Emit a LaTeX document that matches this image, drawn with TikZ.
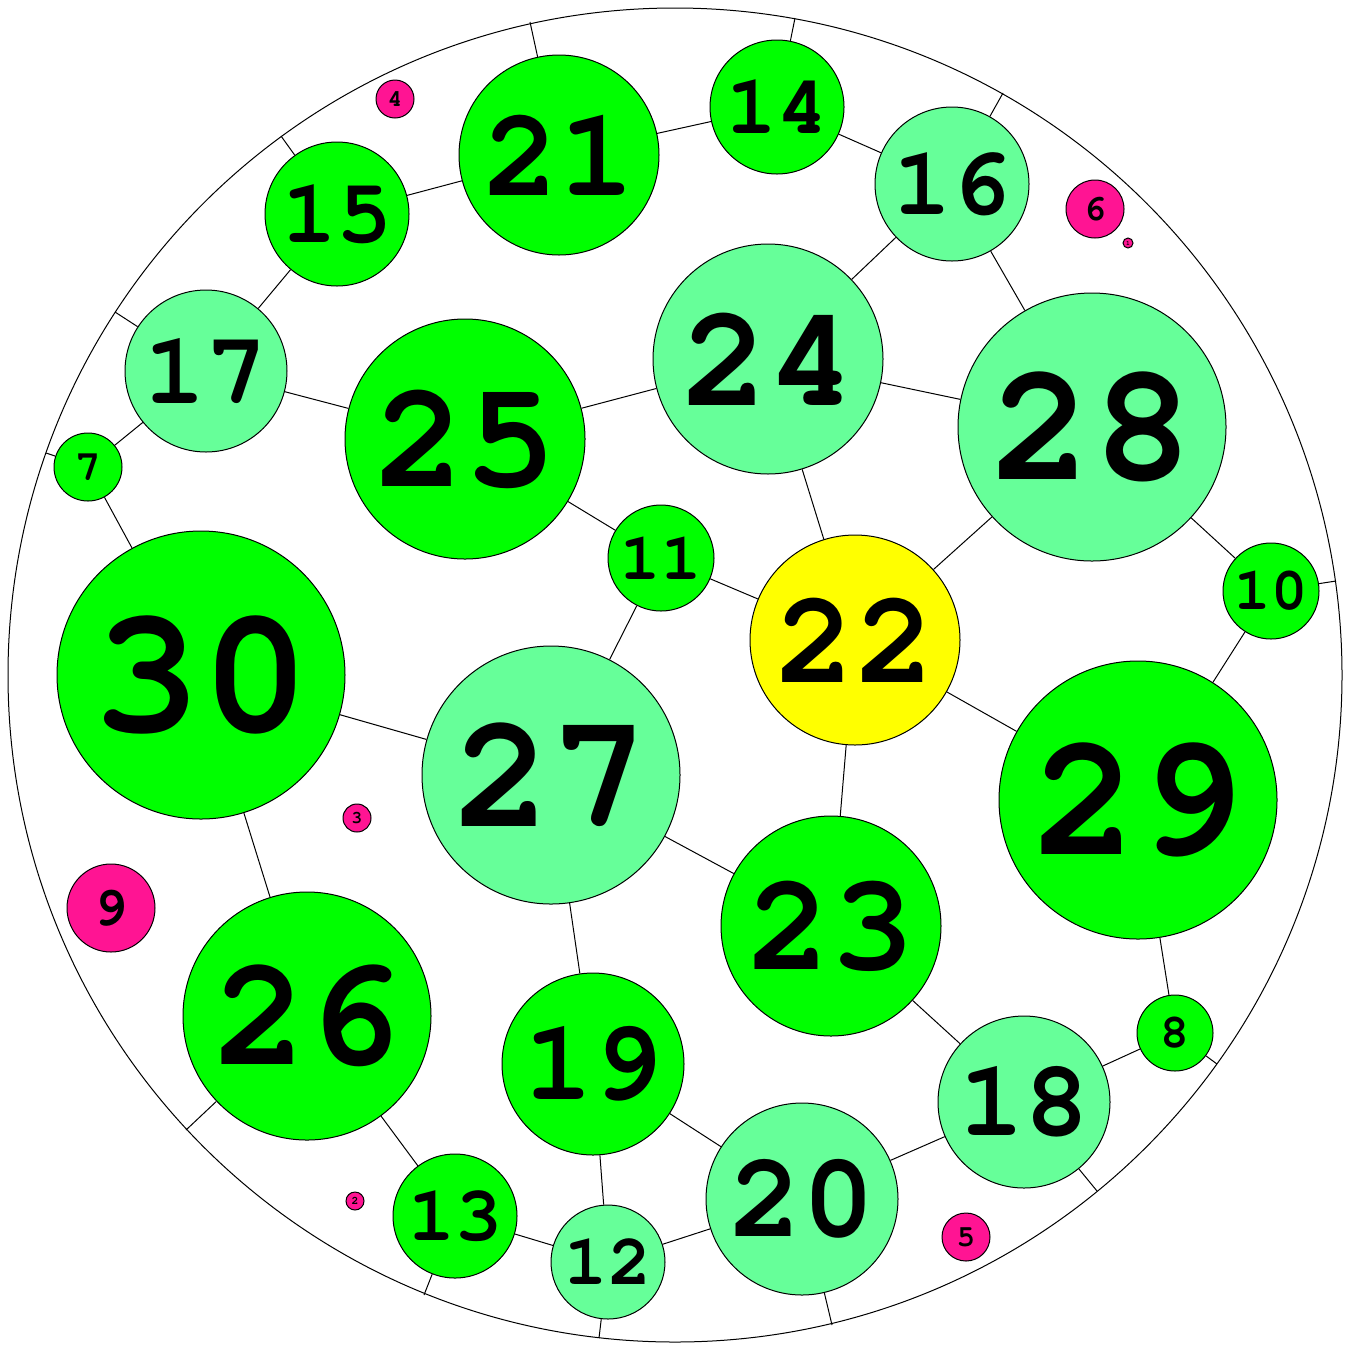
\documentclass[tikz,border=0pt]{standalone}
\usepackage{fontspec}
\setmonofont{texgyrecursor-regular}[Extension=.otf,BoldFont=texgyrecursor-bold]
\definecolor{gA}{HTML}{00FF00}
\definecolor{gB}{HTML}{66FF99}
\definecolor{yA}{HTML}{FFFF00}
\definecolor{pA}{HTML}{FF1493}
\newcommand\bub[5]{%
  \pgfmathsetmacro\fs{0.63*#4}%
  \node[bubble,fill=#5,minimum size=#4pt,font=\ttfamily\bfseries\fontsize{\fs pt}{\fs pt}\selectfont] (n#1) at (#2,#3) {#1};}
\begin{document}
\begin{tikzpicture}[x=0.5pt,y=-0.5pt,
  bubble/.style={circle,draw,line width=0.5pt,inner sep=0pt},
  link/.style={line width=0.5pt}]
\useasboundingbox (0,0) rectangle (1353,1345);
\draw[link] (675,675) circle[radius=333.5pt];
% boundary points
\coordinate (b21) at (530,22);
\coordinate (b14) at (795,18);
\coordinate (b16) at (1003,93);
\coordinate (b15) at (281,136);
\coordinate (b17) at (115,312);
\coordinate (b7) at (46,453);
\coordinate (b10) at (1336,581);
\coordinate (b8) at (1217,1064);
\coordinate (b18) at (1097,1191);
\coordinate (b20) at (832,1325);
\coordinate (b12) at (599,1338);
\coordinate (b13) at (424,1295);
\coordinate (b26) at (186,1130);
% nodes
\bub{21}{559}{155}{100}{gA}
\bub{14}{777}{107}{67}{gA}
\bub{16}{952}{184}{77}{gB}
\bub{15}{337}{214}{72}{gA}
\bub{4}{395}{99}{19}{pA}
\bub{6}{1095}{209}{29}{pA}
\bub{1}{1128}{243}{5}{pA}
\bub{17}{206}{371}{81}{gB}
\bub{25}{465}{439}{120}{gA}
\bub{24}{768}{359}{115}{gB}
\bub{28}{1092}{427}{134}{gB}
\bub{7}{88}{467}{34}{gA}
\bub{11}{661}{558}{53}{gA}
\bub{22}{855}{640}{105}{yA}
\bub{10}{1271}{591}{48}{gA}
\bub{30}{201}{675}{144}{gA}
\bub{27}{551}{775}{129}{gB}
\bub{29}{1138}{800}{139}{gA}
\bub{3}{357}{818}{14}{pA}
\bub{9}{111}{908}{44}{pA}
\bub{23}{831}{926}{110}{gA}
\bub{26}{307}{1016}{124}{gA}
\bub{19}{593}{1064}{91}{gA}
\bub{8}{1175}{1033}{38}{gA}
\bub{18}{1024}{1102}{86}{gB}
\bub{20}{802}{1199}{96}{gB}
\bub{13}{455}{1216}{62}{gA}
\bub{12}{608}{1262}{57}{gB}
\bub{2}{355}{1201}{9}{pA}
\bub{5}{966}{1237}{24}{pA}
% edges
\foreach \a/\b in {21/14,21/15,14/16,15/17,16/24,16/28,17/25,17/7,25/24,25/11,
  24/28,24/22,28/22,28/10,7/30,11/22,11/27,22/29,22/23,10/29,30/27,30/26,
  27/23,27/19,29/8,23/18,8/18,26/13,19/20,19/12,13/12,12/20,20/18}
  \draw[link] (n\a) -- (n\b);
\foreach \a in {21,14,16,15,17,7,10,8,18,20,12,13,26}
  \draw[link] (n\a) -- (b\a);
\end{tikzpicture}
\end{document}
